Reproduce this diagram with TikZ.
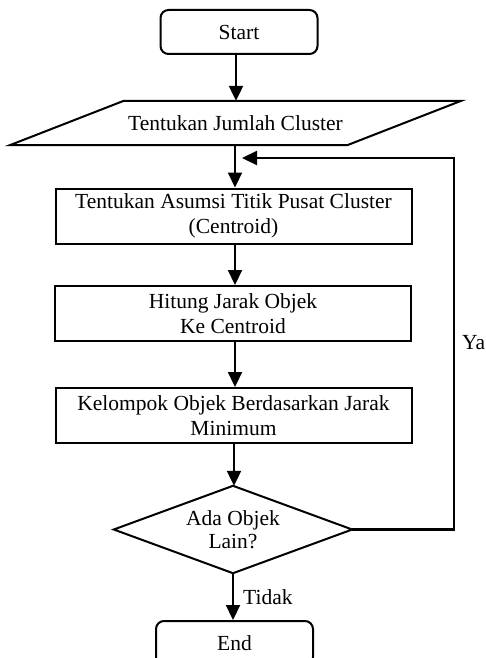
\documentclass[tikz,border=0pt]{standalone}
\usepackage{fontspec}
\setmainfont{Liberation Serif}
\usetikzlibrary{arrows.meta}
\begin{document}
\begin{tikzpicture}[x=1pt,y=-1pt,
  every node/.style={font=\fontsize{21.5}{25}\selectfont, align=center, inner sep=0pt},
  procbox/.style={draw, line width=2pt, minimum width=356pt, minimum height=55pt},
  termbox/.style={draw, line width=2pt, rounded corners=8pt, minimum width=157pt, minimum height=44pt},
  ghost/.style={minimum width=#1},
  outline/.style={line width=2pt, line join=miter},
  flow/.style={line width=2.2pt, -{Triangle[length=15pt,width=14pt]}},
  lbl/.style={anchor=west}
]
\clip (0,0) rectangle (485,658);

% terminals and process boxes
\node[termbox] (start) at (239,32) {Start};
\node[ghost=337pt, minimum height=44pt] (inp) at (235.5,123) {Tentukan Jumlah Cluster};
\draw[outline] ([xshift=57pt]inp.north west) -- ([xshift=57pt]inp.north east)
  -- ([xshift=-57pt]inp.south east) -- ([xshift=-57pt]inp.south west) -- cycle;
\node[procbox] (b1) at (233.5,216) {Tentukan Asumsi Titik Pusat Cluster\\(Centroid)};
\node[procbox] (b2) at (233,313.5) {Hitung Jarak Objek\\Ke Centroid};
\node[procbox] (b3) at (233.5,415.5) {Kelompok Objek Berdasarkan Jarak\\Minimum};

% decision
\node[ghost=238pt, minimum height=87pt, font=\fontsize{21.5}{23}\selectfont] (dec) at (233,529.5) {Ada Objek\\Lain?};
\draw[outline] (dec.north) -- (dec.east) -- (dec.south) -- (dec.west) -- cycle;

\node[termbox] (end) at (234.5,643) {End};

% connectors
\coordinate (corner) at (454,158);
\coordinate (join) at (242,158);
\draw[flow] (start.south -| 236,0) -- (inp.north -| 236,0);
\draw[flow] (inp.south -| 235,0) -- (b1.north -| 235,0);
\draw[flow] (b1.south -| 235,0) -- (b2.north -| 235,0);
\draw[flow] (b2.south -| 235,0) -- (b3.north -| 235,0);
\draw[flow] (b3.south -| 234,0) -- (dec.north -| 234,0);
\draw[flow] (dec.south) -- (end.north -| dec.south);
\draw[flow] (dec.east) -| (corner) -- (join);

\node[lbl] at (462,343) {Ya};
\node[lbl] at (243,597) {Tidak};
\end{tikzpicture}
\end{document}
